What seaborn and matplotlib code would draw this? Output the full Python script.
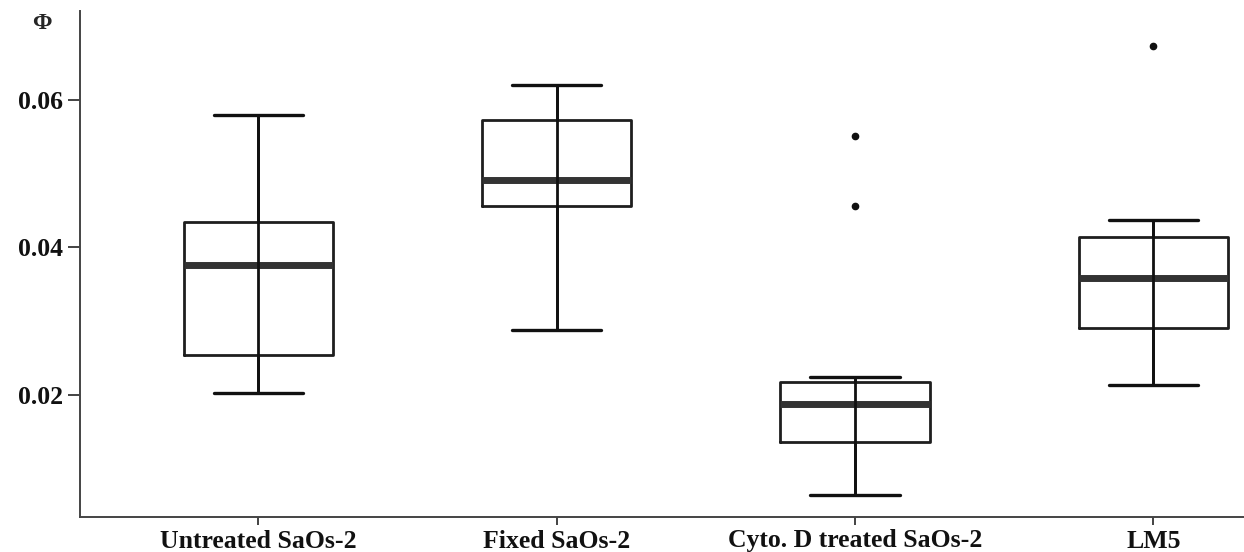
import matplotlib
matplotlib.use("Agg")
import matplotlib.pyplot as plt
import seaborn as sns

# Φ summary values
groups = ["Untreated SaOs-2", "Fixed SaOs-2", "Cyto. D treated SaOs-2", "LM5"]
whis_lo = [0.0202, 0.0287, 0.0064, 0.0213]
q1 = [0.0253, 0.0456, 0.0136, 0.0290]
median = [0.0375, 0.0491, 0.0187, 0.0358]
q3 = [0.0434, 0.0572, 0.0217, 0.0413]
whis_hi = [0.0579, 0.0619, 0.0224, 0.0436]
outliers = [[], [], [0.0456, 0.0550], [0.0672]]

sns.set_style("ticks")
plt.rcParams["font.family"] = ["Liberation Serif", "DejaVu Serif"]
plt.rcParams["font.weight"] = "bold"

stats = []
for i, g in enumerate(groups):
    stats.append({"label": g, "whislo": whis_lo[i], "q1": q1[i], "med": median[i],
                  "q3": q3[i], "whishi": whis_hi[i], "fliers": outliers[i]})

fig = plt.figure(figsize=(12.44, 5.52), dpi=100)
ax = fig.add_axes([80 / 1244, 1 - 517 / 552, 1 - 80 / 1244, (517 - 11) / 552])

pos = list(range(len(groups)))
ax.bxp(stats, positions=pos, widths=0.5, capwidths=0.3,
       boxprops=dict(color="#1e1e1e", linewidth=2, solid_joinstyle="round"),
       whiskerprops=dict(color="#111111", linewidth=2),
       capprops=dict(color="#111111", linewidth=2.4),
       medianprops=dict(color="#333333", linewidth=5, solid_capstyle="butt"),
       flierprops=dict(marker="o", markersize=4.5, markerfacecolor="#111111",
                       markeredgecolor="#111111"))
# the whisker line runs straight through the box in the original
ax.vlines(pos, whis_lo, whis_hi, colors="#111111", linewidth=2, zorder=3)

ax.set_xlim(-0.598, 3.304)
ax.set_ylim(0.0034, 0.0720)
ax.set_yticks([0.02, 0.04, 0.06])
ax.set_yticklabels(["0.02", "0.04", "0.06"])
ax.set_xticks(pos)
ax.set_xticklabels(groups)

ax.tick_params(axis="both", labelsize=18.5, colors="#111111", width=1.1)
ax.tick_params(axis="y", length=9, pad=3)
ax.tick_params(axis="x", length=6, pad=3)
for lab in ax.get_xticklabels() + ax.get_yticklabels():
    lab.set_fontweight("bold")

ax.set_ylabel("Φ", rotation=0, fontsize=17, fontweight="bold", ha="center", va="center")
ax.yaxis.set_label_coords(-0.0326, 0.976)

sns.despine(ax=ax)
for s in ["left", "bottom"]:
    ax.spines[s].set_color("#444444")
    ax.spines[s].set_linewidth(1.4)

fig.savefig("out.png", dpi=100)
